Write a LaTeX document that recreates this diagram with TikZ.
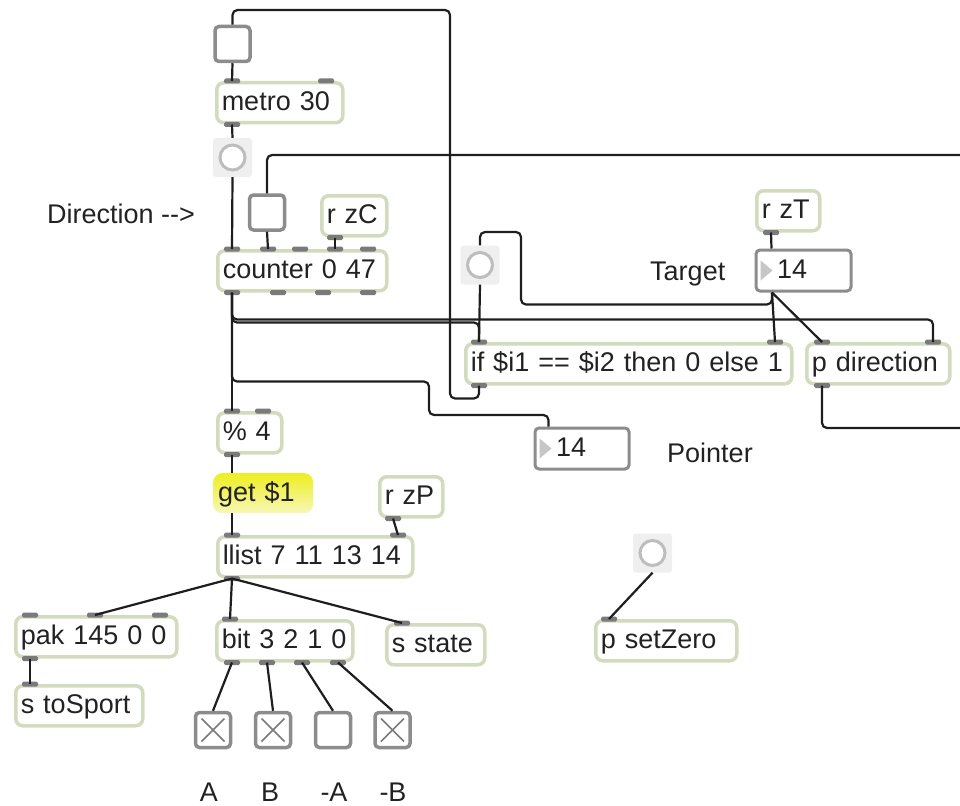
\documentclass[tikz,border=0pt]{standalone}
\usepackage{fontspec}
\setmainfont{Liberation Sans}
\definecolor{objgreen}{HTML}{D3DBBF}
\definecolor{portgray}{HTML}{7A7A7A}
\definecolor{boxgray}{HTML}{8C8C8C}
\definecolor{bangbg}{HTML}{EFEFEF}
\definecolor{ringgray}{HTML}{BDBDBD}
\definecolor{trigray}{HTML}{C6C6C6}
\definecolor{cordcol}{HTML}{1E1E1E}
\definecolor{txtcol}{HTML}{222222}
\definecolor{getyellow}{HTML}{EEEE22}
\definecolor{getpale}{HTML}{F7F7B8}
\newcommand{\maxfont}{\fontsize{27}{30}\selectfont}
% ports: node, port name, offset from the left edge
\newcommand{\inport}[3]{%
  \coordinate (#1-#2) at ([xshift=#3pt]#1.north west);
  \fill[port] (#1-#2) +(-8,-2.5) rectangle +(8,2.5);}
\newcommand{\outport}[3]{%
  \coordinate (#1-#2) at ([xshift=#3pt]#1.south west);
  \fill[port] (#1-#2) +(-8,-2.5) rectangle +(8,2.5);}
\tikzset{
  obj/.style={draw=objgreen, line width=3.5pt, rounded corners=7pt, fill=white,
    anchor=north west, minimum height=40pt, inner xsep=5pt, inner ysep=0pt,
    align=left, text height=19pt, text depth=3pt},
  numbox/.style={draw=boxgray, line width=3pt, rounded corners=4pt, fill=white,
    anchor=north west, minimum height=41pt, inner xsep=5pt, inner ysep=0pt,
    align=left, text height=19pt, text depth=3pt},
  msg/.style={top color=getyellow, bottom color=getpale, rounded corners=9pt,
    anchor=north west, minimum height=40pt, inner xsep=5pt, inner ysep=0pt,
    align=left, text height=19pt, text depth=3pt},
  tgl/.style={draw=boxgray, line width=3.5pt, rounded corners=4pt, fill=white,
    minimum size=35pt, inner sep=0pt},
  checked/.style={path picture={
    \draw[xline] ([shift={(6,6)}]path picture bounding box.north west)
      -- ([shift={(-6,-6)}]path picture bounding box.south east);
    \draw[xline] ([shift={(6,-6)}]path picture bounding box.south west)
      -- ([shift={(-6,6)}]path picture bounding box.north east);}},
  xline/.style={draw=portgray, line width=1.6pt},
  bng/.style={fill=bangbg, rounded corners=3pt, minimum size=39pt, inner sep=0pt,
    path picture={\draw[draw=ringgray, fill=white, line width=3pt]
      (path picture bounding box.center) circle (12.5pt);}},
  port/.style={fill=portgray, rounded corners=1.5pt},
  cord/.style={draw=cordcol, line width=2.2pt, rounded corners=5pt},
  cmt/.style={inner sep=0pt, anchor=base west}
}
\begin{document}
\begin{tikzpicture}[x=1pt, y=-1pt, every node/.style={font=\maxfont, text=txtcol}]
\useasboundingbox (0,0) rectangle (960,805);
% toggles and bangs
\node[tgl] (tgl1) at (232.5,44) {};
\node[bng] (bng1) at (232.5,157.5) {};
\node[tgl] (tgl2) at (267,212.5) {};
\node[bng] (bng2) at (480,265) {};
\node[bng] (bng3) at (652.5,553) {};
\node[tgl, checked] (ta) at (213,730) {};
\node[tgl, checked] (tb) at (273,730) {};
\node[tgl] (tna) at (333,730) {};
\node[tgl, checked] (tnb) at (392.5,730) {};
% objects
\node[obj, text width=116pt] (metro) at (215,81) {metro 30};
\node[obj, text width=55pt] (rzc) at (320,194) {r zC};
\node[obj, text width=159pt] (counter) at (216,249) {counter 0 47};
\node[obj, text width=53pt] (rzt) at (755,189) {r zT};
\node[obj, text width=316pt] (if) at (464,342) {if \$i1 == \$i2 then 0 else 1};
\node[obj, text width=133pt] (pdir) at (805,342) {p direction};
\node[obj, text width=54pt] (mod) at (216,411) {\% 4};
\node[msg, text width=90pt] (get) at (213,473) {get \$1};
\node[obj, text width=53pt] (rzp) at (378,475) {r zP};
\node[obj, text width=185pt] (llist) at (216,535) {llist 7 11 13 14};
\node[obj, text width=151pt] (pak) at (14,615) {pak 145 0 0};
\node[obj, text width=117pt] (tosport) at (14,684) {s toSport};
\node[obj, text width=126pt] (bit) at (215,619) {bit 3 2 1 0};
\node[obj, text width=88pt] (state) at (385,623) {s state};
\node[obj, text width=131pt] (setzero) at (594,619) {p setZero};
% number boxes
\node[numbox, text width=85pt] (tgt) at (754.5,248.5) {\hspace*{16pt}14};
\node[numbox, text width=84pt] (ptr) at (533.5,426.5) {\hspace*{16pt}14};
\fill[trigray] ([xshift=6pt]tgt.west) ++(0,-10) -- ++(12,10) -- ++(-12,10) -- cycle;
\fill[trigray] ([xshift=6pt]ptr.west) ++(0,-10) -- ++(12,10) -- ++(-12,10) -- cycle;
\coordinate (tgt-i1) at ([xshift=17pt]tgt.north west);
\coordinate (tgt-o1) at ([xshift=17.5pt]tgt.south west);
\coordinate (ptr-i1) at ([xshift=15pt]ptr.north west);
\coordinate (edgetop) at (962,155);
\coordinate (edgebot) at (962,428);
% comments
\node[cmt] (dirlbl) at (47,223) {Direction {-}{-}>};
\node[cmt] (tgtlbl) at (650,280) {Target};
\node[cmt] (ptrlbl) at (667,462) {Pointer};
\node[cmt, anchor=base] (lbla) at (209,801) {A};
\node[cmt, anchor=base] (lblb) at (270,801) {B};
\node[cmt, anchor=base] (lblna) at (334,801) {-A};
\node[cmt, anchor=base] (lblnb) at (393,801) {-B};
% inlets and outlets
\inport{metro}{i1}{17} \inport{metro}{i2}{111} \outport{metro}{o1}{17}
\outport{rzc}{o1}{15}
\inport{counter}{i1}{16} \inport{counter}{i2}{52} \inport{counter}{i3}{84}
\inport{counter}{i4}{119} \inport{counter}{i5}{152}
\outport{counter}{o1}{16} \outport{counter}{o2}{62} \outport{counter}{o3}{107}
\outport{counter}{o4}{152}
\outport{rzt}{o1}{16}
\inport{if}{i1}{15} \inport{if}{i2}{311} \outport{if}{o1}{15}
\inport{pdir}{i1}{17} \inport{pdir}{i2}{128} \outport{pdir}{o1}{17}
\inport{mod}{i1}{16} \inport{mod}{i2}{47} \outport{mod}{o1}{16}
\outport{rzp}{o1}{15}
\inport{llist}{i1}{16} \inport{llist}{i2}{182} \outport{llist}{o1}{16}
\inport{pak}{i1}{16} \inport{pak}{i2}{81} \inport{pak}{i3}{146} \outport{pak}{o1}{16}
\inport{tosport}{i1}{16}
\inport{bit}{i1}{15} \outport{bit}{o1}{17} \outport{bit}{o2}{52}
\outport{bit}{o3}{87} \outport{bit}{o4}{123}
\inport{state}{i1}{17}
\inport{setzero}{i1}{15}
% cords
\draw[cord] (if-o1) -- ++(0,13) -| (450,10) -| (tgl1.north);
\draw[cord] (tgl1.south) -- (metro-i1);
\draw[cord] (metro-o1) -- (bng1.north);
\draw[cord] (bng1.south) -- (counter-i1);
\draw[cord] (edgetop) -| (tgl2.north);
\draw[cord] (tgl2.south) -- (counter-i2);
\draw[cord] (rzc-o1) -- (counter-i4);
\draw[cord] (counter-o1) -- (mod-i1);
\draw[cord] (counter-o1) -- ++(0,27) -| (pdir-i2);
\draw[cord] (counter-o1) -- ++(0,30) -| (if-i1);
\draw[cord] (counter-o1) -- ++(0,89) -| (429,415) -| (ptr-i1);
\draw[cord] (rzt-o1) -- (tgt-i1);
\draw[cord] (tgt-o1) -- ++(0,12) -| (521,232) -| (bng2.north);
\draw[cord] (tgt-o1) -- (if-i2);
\draw[cord] (tgt-o1) -- (pdir-i1);
\draw[cord] (bng2.south) -- (if-i1);
\draw[cord] (pdir-o1) |- (edgebot);
\draw[cord] (mod-o1) -- ([xshift=19pt]get.north west);
\draw[cord] ([xshift=19pt]get.south west) -- (llist-i1);
\draw[cord] (rzp-o1) -- (llist-i2);
\draw[cord] (llist-o1) -- (pak-i2);
\draw[cord] (llist-o1) -- (bit-i1);
\draw[cord] (llist-o1) -- (state-i1);
\draw[cord] (pak-o1) -- (tosport-i1);
\draw[cord] (bit-o1) -- (ta.north);
\draw[cord] (bit-o2) -- (tb.north);
\draw[cord] (bit-o3) -- (tna.north);
\draw[cord] (bit-o4) -- (tnb.north);
\draw[cord] (bng3.south) -- (setzero-i1);
\end{tikzpicture}
\end{document}
